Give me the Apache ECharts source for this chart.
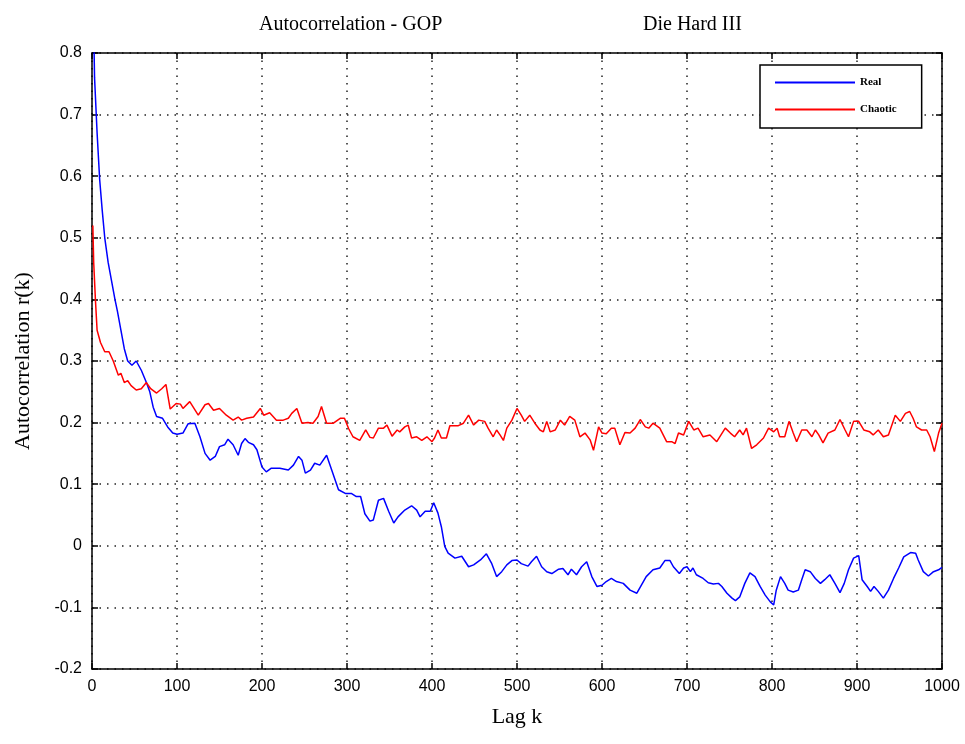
<!DOCTYPE html>
<html>
<head>
<meta charset="utf-8">
<script src="https://cdn.jsdelivr.net/npm/echarts@6/dist/echarts.min.js"></script>
<style>
  html, body { margin: 0; padding: 0; background: #fff; }
  #chart { width: 965px; height: 744px; }
</style>
</head>
<body>
<div id="chart"></div>
<script>
// Real video trace (blue)
var realLag = [0, 3, 6, 9, 12, 15, 19, 23, 27, 30, 34, 38, 42, 47, 52, 58, 64, 68, 72, 76,
  83, 89, 95, 100, 107, 113, 121, 127, 133, 139, 145, 150, 156, 160, 166, 172, 176, 180, 184, 190,
  194, 200, 205, 211, 221, 231, 237, 243, 247, 251, 257, 262, 268, 276, 282, 290, 298, 305, 311, 316,
  321, 327, 331, 337, 343, 349, 355, 360, 368, 376, 382, 386, 392, 398, 402, 407, 411, 415, 419, 427,
  435, 443, 449, 457, 464, 470, 476, 482, 488, 494, 500, 505, 513, 517, 523, 529, 535, 541, 549, 554,
  560, 564, 570, 576, 582, 588, 594, 600, 605, 611, 617, 625, 633, 641, 645, 652, 660, 668, 674, 680,
  684, 691, 696, 700, 704, 707, 711, 719, 725, 731, 737, 741, 747, 753, 757, 762, 768, 774, 780, 786,
  792, 798, 802, 805, 810, 815, 819, 825, 831, 835, 839, 845, 851, 857, 862, 868, 874, 880, 885, 890,
  896, 902, 906, 912, 916, 920, 925, 931, 937, 943, 949, 955, 963, 969, 972, 978, 984, 990, 996, 1000];
var realVal = [1.0, 0.76, 0.67, 0.595, 0.545, 0.50, 0.46, 0.43, 0.40, 0.38, 0.35, 0.32, 0.30, 0.293, 0.30, 0.285, 0.265, 0.25, 0.225, 0.21,
  0.207, 0.193, 0.183, 0.181, 0.183, 0.198, 0.199, 0.177, 0.15, 0.139, 0.145, 0.161, 0.164, 0.173, 0.164, 0.147, 0.166, 0.174, 0.168, 0.164,
  0.156, 0.128, 0.12, 0.126, 0.126, 0.123, 0.131, 0.145, 0.139, 0.118, 0.123, 0.134, 0.131, 0.147, 0.123, 0.091, 0.085, 0.085, 0.08, 0.08,
  0.052, 0.04, 0.042, 0.074, 0.077, 0.056, 0.037, 0.047, 0.058, 0.065, 0.058, 0.047, 0.056, 0.056, 0.07, 0.053, 0.031, -0.001, -0.012, -0.02,
  -0.017, -0.034, -0.031, -0.023, -0.013, -0.028, -0.05, -0.042, -0.031, -0.024, -0.023, -0.029, -0.033, -0.026, -0.017, -0.034, -0.042, -0.045, -0.038, -0.037,
  -0.047, -0.038, -0.047, -0.034, -0.026, -0.05, -0.066, -0.064, -0.058, -0.053, -0.058, -0.061, -0.072, -0.077, -0.067, -0.05, -0.039, -0.036, -0.024, -0.024,
  -0.034, -0.045, -0.036, -0.034, -0.042, -0.036, -0.047, -0.053, -0.06, -0.062, -0.061, -0.066, -0.077, -0.085, -0.089, -0.083, -0.061, -0.044, -0.05, -0.066,
  -0.08, -0.091, -0.096, -0.072, -0.05, -0.061, -0.072, -0.075, -0.072, -0.055, -0.039, -0.042, -0.053, -0.061, -0.055, -0.047, -0.061, -0.076, -0.061, -0.039,
  -0.02, -0.016, -0.055, -0.066, -0.074, -0.066, -0.074, -0.085, -0.072, -0.053, -0.036, -0.018, -0.011, -0.012, -0.023, -0.042, -0.049, -0.042, -0.039, -0.035];

// Chaotic model (red)
var chaoticLag = [1, 2, 4, 6, 10, 15, 20, 25, 31, 34, 38, 42, 46, 52, 58, 64, 69, 76, 82, 87,
  92, 99, 104, 107, 115, 125, 133, 137, 143, 150, 158, 166, 172, 176, 182, 190, 198, 202, 209, 217,
  225, 231, 235, 241, 247, 254, 260, 266, 270, 276, 284, 292, 297, 302, 307, 315, 322, 327, 331, 337,
  343, 347, 353, 359, 362, 368, 372, 376, 382, 388, 394, 400, 403, 407, 411, 417, 421, 431, 437, 443,
  449, 455, 462, 466, 472, 476, 480, 484, 488, 494, 500, 505, 509, 515, 521, 527, 531, 535, 539, 545,
  551, 556, 562, 568, 574, 580, 586, 590, 596, 600, 605, 611, 615, 621, 627, 633, 639, 645, 651, 655,
  660, 668, 676, 682, 686, 690, 696, 702, 708, 713, 719, 727, 735, 745, 751, 756, 762, 766, 770, 776,
  782, 790, 796, 802, 806, 809, 815, 820, 825, 829, 835, 841, 847, 851, 855, 860, 866, 874, 880, 886,
  890, 896, 902, 908, 915, 919, 925, 931, 937, 945, 951, 957, 962, 966, 970, 976, 982, 986, 991, 996, 1000];
var chaoticVal = [0.52, 0.46, 0.40, 0.35, 0.33, 0.315, 0.315, 0.30, 0.277, 0.28, 0.265, 0.268, 0.26, 0.253, 0.255, 0.265, 0.255, 0.248, 0.255, 0.262,
  0.222, 0.231, 0.23, 0.223, 0.234, 0.212, 0.229, 0.231, 0.22, 0.223, 0.212, 0.204, 0.209, 0.204, 0.207, 0.209, 0.223, 0.212, 0.216, 0.204,
  0.204, 0.207, 0.215, 0.223, 0.199, 0.2, 0.199, 0.21, 0.226, 0.199, 0.199, 0.207, 0.207, 0.19, 0.177, 0.171, 0.188, 0.176, 0.175, 0.191,
  0.191, 0.196, 0.178, 0.188, 0.185, 0.193, 0.196, 0.175, 0.177, 0.171, 0.177, 0.169, 0.175, 0.188, 0.175, 0.175, 0.195, 0.195, 0.199, 0.212,
  0.196, 0.204, 0.202, 0.191, 0.177, 0.188, 0.18, 0.171, 0.191, 0.204, 0.223, 0.212, 0.202, 0.212, 0.199, 0.188, 0.185, 0.202, 0.185, 0.188,
  0.204, 0.196, 0.21, 0.204, 0.177, 0.183, 0.172, 0.155, 0.193, 0.183, 0.182, 0.191, 0.191, 0.164, 0.184, 0.183, 0.191, 0.205, 0.193, 0.191,
  0.199, 0.191, 0.169, 0.169, 0.166, 0.183, 0.18, 0.202, 0.188, 0.191, 0.177, 0.18, 0.169, 0.191, 0.183, 0.177, 0.188, 0.18, 0.191, 0.158,
  0.164, 0.175, 0.191, 0.185, 0.191, 0.177, 0.177, 0.202, 0.183, 0.169, 0.188, 0.188, 0.177, 0.188, 0.18, 0.167, 0.183, 0.188, 0.205, 0.188,
  0.177, 0.202, 0.202, 0.188, 0.185, 0.18, 0.188, 0.177, 0.18, 0.212, 0.202, 0.215, 0.218, 0.207, 0.193, 0.188, 0.188, 0.177, 0.153, 0.183, 0.199];

function pairs(xs, ys) {
  return xs.map(function (x, i) {
    return [x, ys[i]];
  });
}

var serif = "'Liberation Serif', 'DejaVu Serif', serif";
var sans = "'Liberation Sans', Arial, sans-serif";

var chart = echarts.init(document.getElementById("chart"));

var gridLine = {
  show: true,
  lineStyle: { color: "#222", width: 1.5, type: [1.5, 6] },
};
var frameLine = { show: true, onZero: false, lineStyle: { color: "#000", width: 1.5 } };
var innerTick = { show: true, inside: true, length: 6, lineStyle: { color: "#000", width: 1.5 } };

var option = {
  animation: false,
  backgroundColor: "#fff",
  title: [
    {
      text: "Autocorrelation - GOP",
      left: 254,
      top: 10,
      textStyle: { fontFamily: serif, fontSize: 20, fontWeight: "normal", color: "#000" },
    },
    {
      text: "Die Hard III",
      left: 638,
      top: 10,
      textStyle: { fontFamily: serif, fontSize: 20, fontWeight: "normal", color: "#000" },
    },
  ],
  legend: {
    left: 760,
    top: 65,
    orient: "vertical",
    icon: "rect",
    itemWidth: 80,
    itemHeight: 2,
    itemGap: 16,
    padding: [12, 25, 13, 15],
    backgroundColor: "#fff",
    borderColor: "#000",
    borderWidth: 1.5,
    borderRadius: 0,
    textStyle: { fontFamily: serif, fontSize: 11, fontWeight: "bold", color: "#000" },
    data: ["Real", "Chaotic"],
  },
  grid: {
    left: 92,
    right: 23,
    top: 53,
    bottom: 75,
    containLabel: false,
  },
  xAxis: [
    {
      type: "value",
      position: "bottom",
      min: 0,
      max: 1000,
      interval: 100,
      name: "Lag k",
      nameLocation: "middle",
      nameGap: 37,
      nameTextStyle: { fontFamily: serif, fontSize: 22, color: "#000" },
      axisLine: frameLine,
      axisTick: innerTick,
      axisLabel: {
        fontFamily: sans,
        fontSize: 16,
        color: "#000",
        margin: 10,
        formatter: function (v) {
          return String(v);
        },
      },
      splitLine: gridLine,
    },
    {
      type: "value",
      position: "top",
      min: 0,
      max: 1000,
      interval: 100,
      axisLine: frameLine,
      axisTick: innerTick,
      axisLabel: { show: false },
      splitLine: { show: false },
    },
  ],
  yAxis: [
    {
      type: "value",
      position: "left",
      min: -0.2,
      max: 0.8,
      interval: 0.1,
      name: "Autocorrelation r(k)",
      nameLocation: "middle",
      nameGap: 58,
      nameTextStyle: { fontFamily: serif, fontSize: 22, color: "#000" },
      axisLine: frameLine,
      axisTick: innerTick,
      axisLabel: {
        fontFamily: sans,
        fontSize: 16,
        color: "#000",
        margin: 10,
        formatter: function (v) {
          return String(Math.round(v * 10) / 10);
        },
      },
      splitLine: gridLine,
    },
    {
      type: "value",
      position: "right",
      min: -0.2,
      max: 0.8,
      interval: 0.1,
      axisLine: frameLine,
      axisTick: innerTick,
      axisLabel: { show: false },
      splitLine: { show: false },
    },
  ],
  series: [
    {
      name: "Real",
      type: "line",
      xAxisIndex: 0,
      yAxisIndex: 0,
      symbol: "none",
      clip: true,
      data: pairs(realLag, realVal),
      lineStyle: { color: "#0000ff", width: 1.5 },
      itemStyle: { color: "#0000ff" },
    },
    {
      name: "Chaotic",
      type: "line",
      xAxisIndex: 0,
      yAxisIndex: 0,
      symbol: "none",
      clip: true,
      data: pairs(chaoticLag, chaoticVal),
      lineStyle: { color: "#ff0000", width: 1.5 },
      itemStyle: { color: "#ff0000" },
    },
  ],
};

chart.setOption(option);
</script>
</body>
</html>
